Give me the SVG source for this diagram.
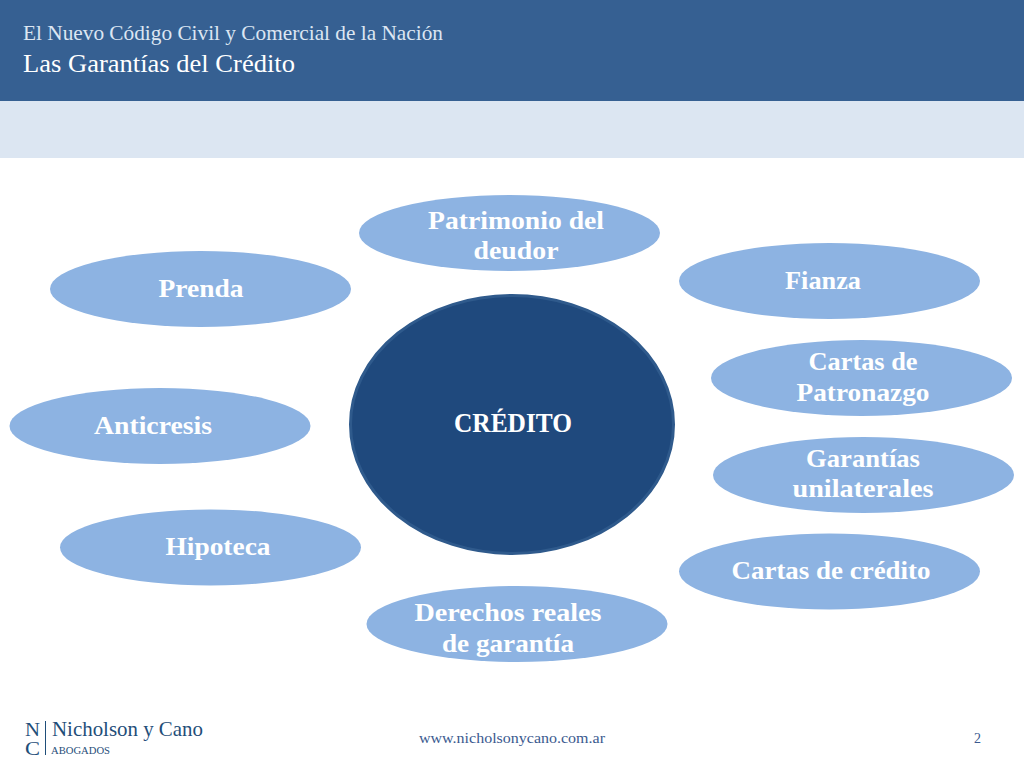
<svg xmlns="http://www.w3.org/2000/svg" width="1024" height="768" viewBox="0 0 1024 768">
<style>
text{font-family:"Liberation Serif","DejaVu Serif",serif}
.o{fill:#8db3e2}
.l{font-size:25px;font-weight:700;fill:#fff;text-anchor:middle}
.logo{fill:#1f4e79}
.foot{font-size:14px;fill:#3b5a8f}
</style>
<rect width="1024" height="768" fill="#fff"/>
<g id="header">
<rect width="1024" height="101" fill="#366092"/>
<rect y="101" width="1024" height="57" fill="#dce6f2"/>
<text x="23" y="40" font-size="21" fill="#dce6f2" textLength="420" lengthAdjust="spacingAndGlyphs">El Nuevo Código Civil y Comercial de la Nación</text>
<text x="23" y="72" font-size="25" fill="#fff" textLength="272" lengthAdjust="spacingAndGlyphs">Las Garantías del Crédito</text>
</g>
<g id="connectors"></g>
<g id="credito"><ellipse cx="512" cy="424.500" rx="161.500" ry="129" fill="#1f497d" stroke="#2f5a8c" stroke-width="3"/><text class="l" x="513" y="432" style="font-size:27px" textLength="118" lengthAdjust="spacingAndGlyphs">CRÉDITO</text></g>
<g id="patrimonio"><ellipse class="o" cx="509.500" cy="233" rx="150.500" ry="38"/><text class="l" x="516" y="229" textLength="176" lengthAdjust="spacingAndGlyphs">Patrimonio del</text><text class="l" x="516" y="259" textLength="85" lengthAdjust="spacingAndGlyphs">deudor</text></g>
<g id="prenda"><ellipse class="o" cx="200.500" cy="289" rx="150.500" ry="38"/><text class="l" x="201" y="297" textLength="85" lengthAdjust="spacingAndGlyphs">Prenda</text></g>
<g id="fianza"><ellipse class="o" cx="829.500" cy="281" rx="150.500" ry="38"/><text class="l" x="823" y="289" textLength="76" lengthAdjust="spacingAndGlyphs">Fianza</text></g>
<g id="cartas-patronazgo"><ellipse class="o" cx="861.500" cy="378" rx="150.500" ry="38"/><text class="l" x="863" y="370" textLength="109" lengthAdjust="spacingAndGlyphs">Cartas de</text><text class="l" x="863" y="401" textLength="133" lengthAdjust="spacingAndGlyphs">Patronazgo</text></g>
<g id="anticresis"><ellipse class="o" cx="160" cy="426" rx="150.500" ry="38"/><text class="l" x="153" y="434" textLength="118" lengthAdjust="spacingAndGlyphs">Anticresis</text></g>
<g id="garantias"><ellipse class="o" cx="863.500" cy="475" rx="150.500" ry="38"/><text class="l" x="863" y="467" textLength="114" lengthAdjust="spacingAndGlyphs">Garantías</text><text class="l" x="863" y="497" textLength="141" lengthAdjust="spacingAndGlyphs">unilaterales</text></g>
<g id="hipoteca"><ellipse class="o" cx="210.500" cy="547.500" rx="150.500" ry="38"/><text class="l" x="218" y="555" textLength="105" lengthAdjust="spacingAndGlyphs">Hipoteca</text></g>
<g id="cartas-credito"><ellipse class="o" cx="829.500" cy="571.500" rx="150.500" ry="38"/><text class="l" x="831" y="579" textLength="199" lengthAdjust="spacingAndGlyphs">Cartas de crédito</text></g>
<g id="derechos"><ellipse class="o" cx="517" cy="624" rx="150.500" ry="38"/><text class="l" x="508" y="621" textLength="187" lengthAdjust="spacingAndGlyphs">Derechos reales</text><text class="l" x="508" y="652" textLength="132" lengthAdjust="spacingAndGlyphs">de garantía</text></g>
<g id="logo">
<text class="logo" x="25" y="736" font-size="18" textLength="15" lengthAdjust="spacingAndGlyphs">N</text>
<text class="logo" x="25" y="755" font-size="18" textLength="15" lengthAdjust="spacingAndGlyphs">C</text>
<rect x="45" y="721" width="1" height="34" fill="#1f4e79"/>
<text class="logo" x="52" y="736" font-size="22" textLength="151" lengthAdjust="spacingAndGlyphs">Nicholson y Cano</text>
<text class="logo" x="51" y="754" font-size="10" textLength="59" lengthAdjust="spacingAndGlyphs">ABOGADOS</text>
</g>
<g id="footer">
<text class="foot" x="419" y="743" textLength="186" lengthAdjust="spacingAndGlyphs">www.nicholsonycano.com.ar</text>
<text class="foot" x="974" y="743">2</text>
</g>
</svg>
